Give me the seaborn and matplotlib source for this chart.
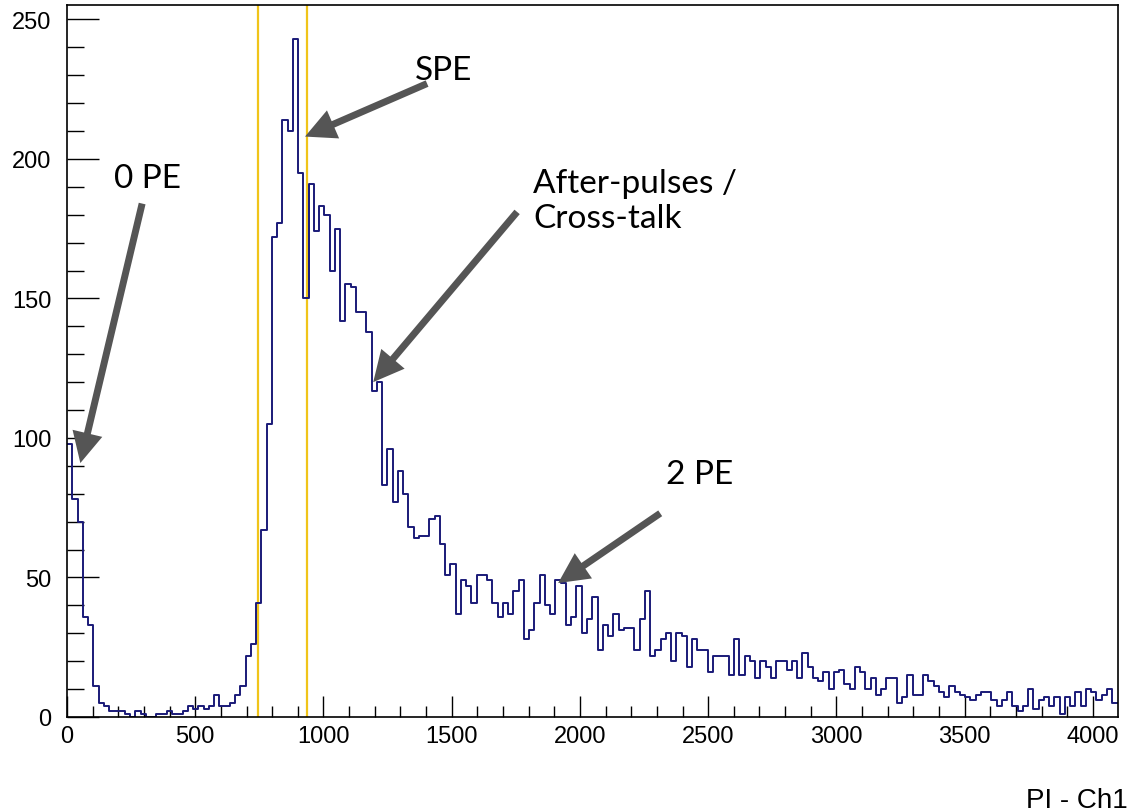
import numpy as np
import pandas as pd
import matplotlib
matplotlib.use("Agg")
import matplotlib.pyplot as plt
import seaborn as sns
from matplotlib.ticker import MultipleLocator

# ---------------- data ----------------
counts = [
    98, 78, 70, 36, 33,
    11, 5, 4, 2, 2,
    2, 1, 0, 2, 1,
    0, 0, 1, 1, 2,
    1, 1, 2, 4, 3,
    4, 3, 4, 8, 4,
    4, 5, 8, 11, 22,
    26, 41, 67, 105, 172,
    177, 214, 210, 243, 195,
    150, 191, 174, 183, 180,
    160, 175, 142, 155, 154,
    145, 145, 138, 117, 120,
    83, 96, 77, 88, 80,
    68, 64, 65, 65, 71,
    72, 62, 51, 55, 37,
    49, 47, 41, 51, 51,
    49, 41, 36, 41, 37,
    45, 49, 28, 31, 41,
    51, 40, 37, 49, 48,
    33, 36, 47, 30, 35,
    43, 24, 33, 29, 37,
    31, 32, 32, 24, 35,
    45, 22, 24, 28, 30,
    20, 30, 29, 18, 28,
    24, 24, 16, 22, 22,
    22, 15, 28, 15, 22,
    20, 14, 20, 18, 14,
    20, 20, 17, 20, 14,
    23, 18, 14, 13, 16,
    10, 16, 17, 12, 10,
    18, 16, 10, 14, 8,
    10, 14, 14, 5, 7,
    15, 8, 8, 15, 13,
    11, 9, 7, 11, 9,
    8, 7, 6, 8, 9,
    9, 6, 4, 6, 9,
    4, 2, 4, 10, 3,
    6, 7, 4, 7, 1,
    7, 4, 9, 4, 10,
    9, 6, 8, 10, 5,
]
x_range = [0, 4096]
cut_lines = [745, 935]
x_ticks = [0, 500, 1000, 1500, 2000, 2500, 3000, 3500, 4000]
y_ticks = [0, 50, 100, 150, 200, 250]
x_label = "PI - Ch1"

ann_labels = ["0 PE", "SPE", "After-pulses /\nCross-talk", "2 PE"]
ann_tips_x = [52, 928, 1194, 1915]
ann_tips_y = [91, 208, 120, 48]
ann_tails_x = [293, 1404, 1755, 2313]
ann_tails_y = [184, 227, 181, 73]

# ---------------- derived ----------------
n_bins = len(counts)
bin_w = (x_range[1] - x_range[0]) / n_bins
centers = x_range[0] + bin_w * (np.arange(n_bins) + 0.5)
df = pd.DataFrame({"pi": centers, "n": counts})
ymax = 1.05 * max(counts)

# ---------------- figure ----------------
sns.set_style("white")
plt.rcParams["font.family"] = ["Liberation Sans", "DejaVu Sans"]
plt.rcParams["text.color"] = "black"

fig = plt.figure(figsize=(11.38, 8.12), dpi=100)
ax = fig.add_axes([67 / 1138, (812 - 718) / 812, (1117.5 - 67) / 1138, (718 - 6) / 812])

sns.histplot(data=df, x="pi", weights="n", binwidth=bin_w, binrange=tuple(x_range),
             element="step", fill=False, color="#1a1a78", linewidth=1.4, ax=ax)

for c in cut_lines:
    ax.axvline(c, color="#f0c419", lw=1.6, zorder=1)

ax.set_xlim(*x_range)
ax.set_ylim(0, ymax)
ax.set_xticks(x_ticks)
ax.set_yticks(y_ticks)
ax.xaxis.set_minor_locator(MultipleLocator(100))
ax.yaxis.set_minor_locator(MultipleLocator(10))
ax.set_xlabel("")
ax.set_ylabel("")

for s in ax.spines.values():
    s.set_visible(True)
    s.set_color("black")
    s.set_linewidth(1.2)

ax.tick_params(axis="both", which="both", direction="in", colors="black",
               labelsize=17, width=1.0, top=False, right=False,
               bottom=True, left=True)
ax.tick_params(axis="y", which="major", length=23, pad=11)
ax.tick_params(axis="y", which="minor", length=12)
ax.tick_params(axis="x", which="major", length=15, pad=6)
ax.tick_params(axis="x", which="minor", length=8)

ann_font = ["Lato", "DejaVu Sans"]
for tx, ty, sx, sy in zip(ann_tips_x, ann_tips_y, ann_tails_x, ann_tails_y):
    ax.annotate("", xy=(tx, ty), xytext=(sx, sy), xycoords="data",
                arrowprops=dict(facecolor="#555555", edgecolor="none",
                                width=5, headwidth=22, headlength=22, shrink=0))

ax.text(313, 193, ann_labels[0], ha="center", va="center", fontsize=24,
        family=ann_font, color="black")
ax.text(1467, 232, ann_labels[1], ha="center", va="center", fontsize=24,
        family=ann_font, color="black")
ax.text(1817, 185, ann_labels[2], ha="left", va="center", fontsize=24,
        family=ann_font, linespacing=1.2, color="black")
ax.text(2468, 87, ann_labels[3], ha="center", va="center", fontsize=24,
        family=ann_font, color="black")

fig.text(1128 / 1138, (812 - 808) / 812, x_label, ha="right", va="baseline",
         fontsize=20, family=["Liberation Sans", "DejaVu Sans"], color="black")

fig.savefig("out.png", dpi=100)
